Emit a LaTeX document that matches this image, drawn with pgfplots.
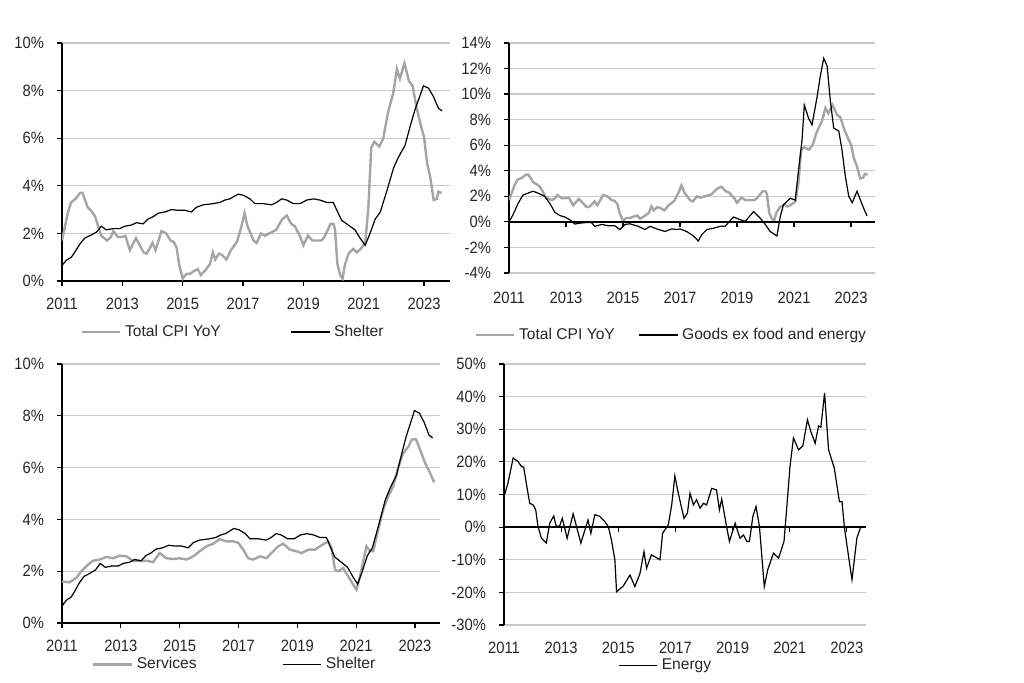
\documentclass[border=0pt]{standalone}
\usepackage{fontspec}
\setmainfont{Liberation Sans}
\newfontfamily\tickfont{Liberation Sans}[FakeStretch=0.9]
\usepackage{pgfplots}
\pgfplotsset{compat=1.18}
\usepackage{pgfplotstable}
\definecolor{cpigray}{RGB}{165,165,165}
\definecolor{gridgray}{RGB}{200,200,200}
\pgfdeclareplotmark{dtick}{\pgfpathmoveto{\pgfpoint{0pt}{0pt}}\pgfpathlineto{\pgfpoint{0pt}{-2.5pt}}\pgfusepathqstroke}

\pgfplotstableread{
x y
2011.00 1.7
2011.10 2.3
2011.20 2.9
2011.30 3.3
2011.45 3.45
2011.60 3.7
2011.68 3.7
2011.85 3.1
2012.00 2.9
2012.10 2.7
2012.20 2.3
2012.30 1.9
2012.50 1.7
2012.62 1.85
2012.70 2.1
2012.85 1.85
2013.00 1.85
2013.10 1.9
2013.25 1.3
2013.45 1.8
2013.60 1.45
2013.70 1.2
2013.80 1.15
2013.90 1.35
2014.00 1.6
2014.10 1.3
2014.20 1.7
2014.30 2.1
2014.45 2.0
2014.60 1.7
2014.70 1.65
2014.80 1.4
2014.88 0.7
2015.00 0.1
2015.12 0.3
2015.25 0.3
2015.35 0.4
2015.50 0.5
2015.60 0.25
2015.75 0.45
2015.90 0.7
2016.00 1.2
2016.08 0.9
2016.20 1.15
2016.30 1.1
2016.45 0.9
2016.60 1.3
2016.80 1.65
2016.95 2.3
2017.05 2.85
2017.15 2.3
2017.35 1.7
2017.45 1.6
2017.60 2.0
2017.72 1.9
2017.95 2.05
2018.10 2.15
2018.30 2.6
2018.45 2.75
2018.60 2.4
2018.72 2.3
2018.90 1.85
2019.00 1.5
2019.15 1.9
2019.30 1.7
2019.60 1.7
2019.70 1.85
2019.90 2.4
2020.00 2.4
2020.05 2.15
2020.13 0.7
2020.22 0.25
2020.30 0.1
2020.38 0.7
2020.50 1.15
2020.65 1.35
2020.77 1.2
2020.90 1.35
2021.05 1.6
2021.15 3.0
2021.25 5.6
2021.35 5.85
2021.52 5.65
2021.65 6.0
2021.80 7.05
2021.98 7.9
2022.10 8.9
2022.20 8.5
2022.35 9.15
2022.50 8.4
2022.62 8.2
2022.75 7.3
2022.90 6.5
2023.00 6.05
2023.10 4.95
2023.20 4.4
2023.32 3.4
2023.42 3.45
2023.48 3.75
2023.58 3.7
}\cpi

\pgfplotstableread{
x y
2011.00 0.65
2011.14 0.87
2011.31 1.0
2011.42 1.2
2011.59 1.55
2011.75 1.8
2011.92 1.9
2012.14 2.05
2012.30 2.3
2012.47 2.15
2012.69 2.2
2012.91 2.2
2013.08 2.3
2013.30 2.35
2013.47 2.45
2013.69 2.4
2013.85 2.6
2014.02 2.7
2014.19 2.85
2014.41 2.9
2014.63 3.0
2014.85 2.97
2015.07 2.97
2015.29 2.9
2015.46 3.1
2015.68 3.2
2016.01 3.25
2016.23 3.3
2016.40 3.4
2016.56 3.45
2016.84 3.65
2017.01 3.6
2017.23 3.45
2017.39 3.25
2017.67 3.25
2017.95 3.2
2018.11 3.3
2018.28 3.45
2018.45 3.4
2018.67 3.25
2018.89 3.25
2019.11 3.4
2019.33 3.45
2019.55 3.4
2019.77 3.3
2019.99 3.3
2020.10 3.0
2020.27 2.55
2020.49 2.35
2020.71 2.15
2020.88 1.8
2021.05 1.5
2021.21 2.0
2021.38 2.6
2021.55 2.9
2021.77 3.8
2021.99 4.75
2022.15 5.2
2022.37 5.7
2022.54 6.5
2022.70 7.2
2022.87 7.8
2022.98 8.2
2023.15 8.1
2023.31 7.75
2023.48 7.25
2023.60 7.15
}\shelter

\pgfplotstableread{
x y
2011.00 0.0
2011.14 0.55
2011.32 1.45
2011.49 2.1
2011.67 2.25
2011.84 2.4
2012.02 2.25
2012.25 2.0
2012.43 1.45
2012.61 0.75
2012.78 0.5
2012.96 0.38
2013.13 0.17
2013.31 -0.17
2013.48 -0.1
2013.72 -0.05
2013.89 -0.05
2014.01 -0.35
2014.25 -0.2
2014.48 -0.3
2014.71 -0.3
2014.89 -0.6
2015.07 -0.2
2015.24 -0.15
2015.54 -0.35
2015.77 -0.6
2015.95 -0.35
2016.18 -0.55
2016.47 -0.75
2016.71 -0.55
2016.88 -0.6
2017.00 -0.55
2017.23 -0.75
2017.47 -1.1
2017.64 -1.5
2017.76 -1.0
2017.94 -0.6
2018.17 -0.5
2018.41 -0.35
2018.58 -0.35
2018.70 -0.05
2018.88 0.38
2019.11 0.17
2019.29 0.05
2019.58 0.8
2019.81 0.3
2019.99 -0.2
2020.16 -0.75
2020.40 -1.1
2020.52 0.45
2020.63 1.35
2020.87 1.85
2021.04 1.7
2021.16 4.1
2021.28 6.4
2021.36 9.15
2021.51 8.1
2021.63 7.6
2021.81 9.8
2021.92 11.4
2022.04 12.8
2022.16 12.2
2022.27 9.55
2022.39 7.35
2022.57 7.1
2022.68 5.65
2022.80 3.55
2022.92 2.0
2023.04 1.5
2023.21 2.4
2023.39 1.35
2023.56 0.45
}\goods

\pgfplotstableread{
x y
2011.00 1.6
2011.26 1.57
2011.49 1.75
2011.66 2.0
2011.88 2.25
2012.05 2.4
2012.28 2.45
2012.51 2.55
2012.74 2.5
2012.96 2.6
2013.19 2.57
2013.42 2.4
2013.64 2.4
2013.87 2.4
2014.10 2.35
2014.32 2.7
2014.55 2.5
2014.78 2.47
2015.00 2.5
2015.23 2.45
2015.46 2.57
2015.68 2.77
2015.91 2.96
2016.14 3.06
2016.36 3.24
2016.59 3.15
2016.82 3.15
2016.99 3.1
2017.16 2.83
2017.33 2.5
2017.50 2.45
2017.73 2.57
2017.95 2.5
2018.12 2.7
2018.35 2.96
2018.52 3.06
2018.75 2.83
2018.97 2.77
2019.14 2.7
2019.37 2.83
2019.60 2.83
2019.82 3.0
2020.05 3.15
2020.16 2.9
2020.28 2.06
2020.39 2.0
2020.56 2.12
2020.73 1.8
2020.90 1.48
2021.01 1.29
2021.13 1.8
2021.35 2.96
2021.47 2.77
2021.58 2.77
2021.75 3.6
2021.92 4.38
2022.09 4.9
2022.26 5.28
2022.43 6.0
2022.60 6.56
2022.77 6.8
2022.89 7.08
2023.03 7.1
2023.17 6.7
2023.34 6.18
2023.51 5.8
2023.65 5.43
}\services

\pgfplotstableread{
x y
2011.00 9.4
2011.14 13.5
2011.32 21.2
2011.49 20.1
2011.61 18.6
2011.69 18.4
2011.78 13.5
2011.90 7.3
2012.02 6.8
2012.11 5.3
2012.19 0.2
2012.31 -3.4
2012.48 -4.9
2012.60 1.2
2012.74 3.4
2012.83 0.2
2012.95 0.4
2013.04 2.7
2013.21 -3.4
2013.42 4.1
2013.69 -4.9
2013.94 2.2
2014.04 -1.9
2014.18 3.8
2014.35 3.3
2014.53 1.7
2014.65 0.2
2014.76 -3.9
2014.88 -10.0
2014.94 -19.8
2015.17 -18.1
2015.41 -14.7
2015.58 -18.2
2015.76 -14.2
2015.90 -7.5
2015.99 -12.6
2016.16 -8.5
2016.46 -10.0
2016.55 -1.9
2016.75 0.7
2016.87 6.8
2016.98 15.7
2017.10 10.4
2017.30 2.7
2017.42 4.3
2017.51 10.4
2017.63 6.8
2017.74 8.4
2017.86 5.8
2017.98 7.3
2018.09 6.8
2018.27 11.9
2018.44 11.4
2018.54 5.3
2018.62 8.6
2018.79 0.2
2018.89 -4.4
2019.09 1.2
2019.26 -3.4
2019.38 -2.4
2019.50 -4.4
2019.59 -4.4
2019.71 3.3
2019.82 6.3
2019.94 0.2
2020.11 -18.2
2020.23 -13.1
2020.43 -8.0
2020.61 -9.5
2020.80 -4.4
2020.90 6.3
2021.01 18.6
2021.13 27.3
2021.31 23.7
2021.46 24.9
2021.62 32.9
2021.74 29.3
2021.89 25.7
2022.01 31.0
2022.09 30.6
2022.22 41.1
2022.36 23.7
2022.56 18.1
2022.74 7.8
2022.83 7.8
2022.91 0.2
2023.00 -5.4
2023.18 -16.1
2023.35 -3.4
2023.47 -0.3
}\energy

\pgfplotsset{
  base/.style={
    scale only axis,
    axis y line*=left,
    axis x line*=bottom,
    axis line style={-, black, line width=0.8pt},
    xmin=2011,
    ymajorgrids,
    major grid style={gridgray, line width=0.6pt},
    tick align=outside,
    major tick length=2.5pt,
    tick style={black, line width=0.6pt},
    xtick={2011,2013,2015,2017,2019,2021,2023},
    xticklabels={2011,2013,2015,2017,2019,2021,2023},
    ticklabel style={font=\tickfont\fontsize{8.2}{9.5}\selectfont, text=black!85},
    yticklabel style={xshift=-3pt},
    xticklabel style={yshift=-2.5pt},
    legend style={draw=none, fill=none, legend columns=2, inner sep=0pt,
      font=\fontsize{7.8}{9}\selectfont, text=black!85},
    legend cell align=left,
    legend image code/.code={\draw[##1] (0cm,0cm) -- (0.67cm,0cm);},
  },
  zeroaxis/.style={
    x axis line style={draw=none},
    xtick style={draw=none},
  },
}

\begin{document}
\begin{tikzpicture}
\useasboundingbox (0pt,0pt) rectangle (512pt,341.5pt);

% top left
\begin{axis}[base, at={(31pt,201pt)}, anchor=south west, width=194pt, height=119pt,
  xmax=2023.86, ymin=0, ymax=10, ytick={0,2,4,6,8,10},
  yticklabels={0\%,2\%,4\%,6\%,8\%,10\%},
  legend style={at={(0.047,-0.214)}, anchor=west,
    /tikz/every even column/.append style={column sep=33pt}}]
\addplot[cpigray, line width=1.2pt] table {\cpi};
\addlegendentry{Total CPI YoY}
\addplot[black, line width=0.6pt] table {\shelter};
\addlegendentry{Shelter}
\end{axis}

% top right
\begin{axis}[base, zeroaxis, at={(254.5pt,205pt)}, anchor=south west, width=183pt, height=115pt,
  xmax=2023.84, ymin=-4, ymax=14, ytick={-4,-2,0,2,4,6,8,10,12,14},
  yticklabels={-4\%,-2\%,0\%,2\%,4\%,6\%,8\%,10\%,12\%,14\%},
  xticklabel style={yshift=-1pt},
  legend style={at={(-0.095,-0.27)}, anchor=west,
    /tikz/every even column/.append style={column sep=10pt}}]
\addplot[cpigray, line width=1.2pt] table {\cpi};
\addlegendentry{Total CPI YoY}
\addplot[black, line width=0.8pt, forget plot] coordinates {(2011,0) (2023.84,0)};
\addplot[black, only marks, mark=dtick, mark options={line width=0.6pt}, forget plot]
  coordinates {(2013,0) (2015,0) (2017,0) (2019,0) (2021,0) (2023,0)};
\addplot[black, line width=0.6pt] table {\goods};
\addlegendentry{Goods ex food and energy}
\end{axis}

% bottom left
\begin{axis}[base, at={(31pt,30pt)}, anchor=south west, width=189pt, height=129.5pt,
  xmax=2023.85, ymin=0, ymax=10, ytick={0,2,4,6,8,10},
  yticklabels={0\%,2\%,4\%,6\%,8\%,10\%},
  xticklabel style={yshift=0pt},
  legend style={at={(0.079,-0.16)}, anchor=west,
    /tikz/every even column/.append style={column sep=41pt}}]
\addplot[cpigray, line width=1.2pt] table {\services};
\addlegendentry{Services}
\addplot[black, line width=0.6pt] table {\shelter};
\addlegendentry{Shelter}
\end{axis}

% bottom right
\begin{axis}[base, zeroaxis, at={(252pt,29pt)}, anchor=south west, width=181pt, height=130.5pt,
  xmax=2023.67, ymin=-30, ymax=50, ytick={-30,-20,-10,0,10,20,30,40,50},
  yticklabels={-30\%,-20\%,-10\%,0\%,10\%,20\%,30\%,40\%,50\%},
  legend style={at={(0.315,-0.155)}, anchor=west}]
\addplot[black, line width=0.8pt, forget plot] coordinates {(2011,0) (2023.67,0)};
\addplot[black, only marks, mark=dtick, mark options={line width=0.6pt}, forget plot]
  coordinates {(2013,0) (2015,0) (2017,0) (2019,0) (2021,0) (2023,0)};
\addplot[black, line width=0.6pt] table {\energy};
\addlegendentry{Energy}
\end{axis}
\end{tikzpicture}
\end{document}
